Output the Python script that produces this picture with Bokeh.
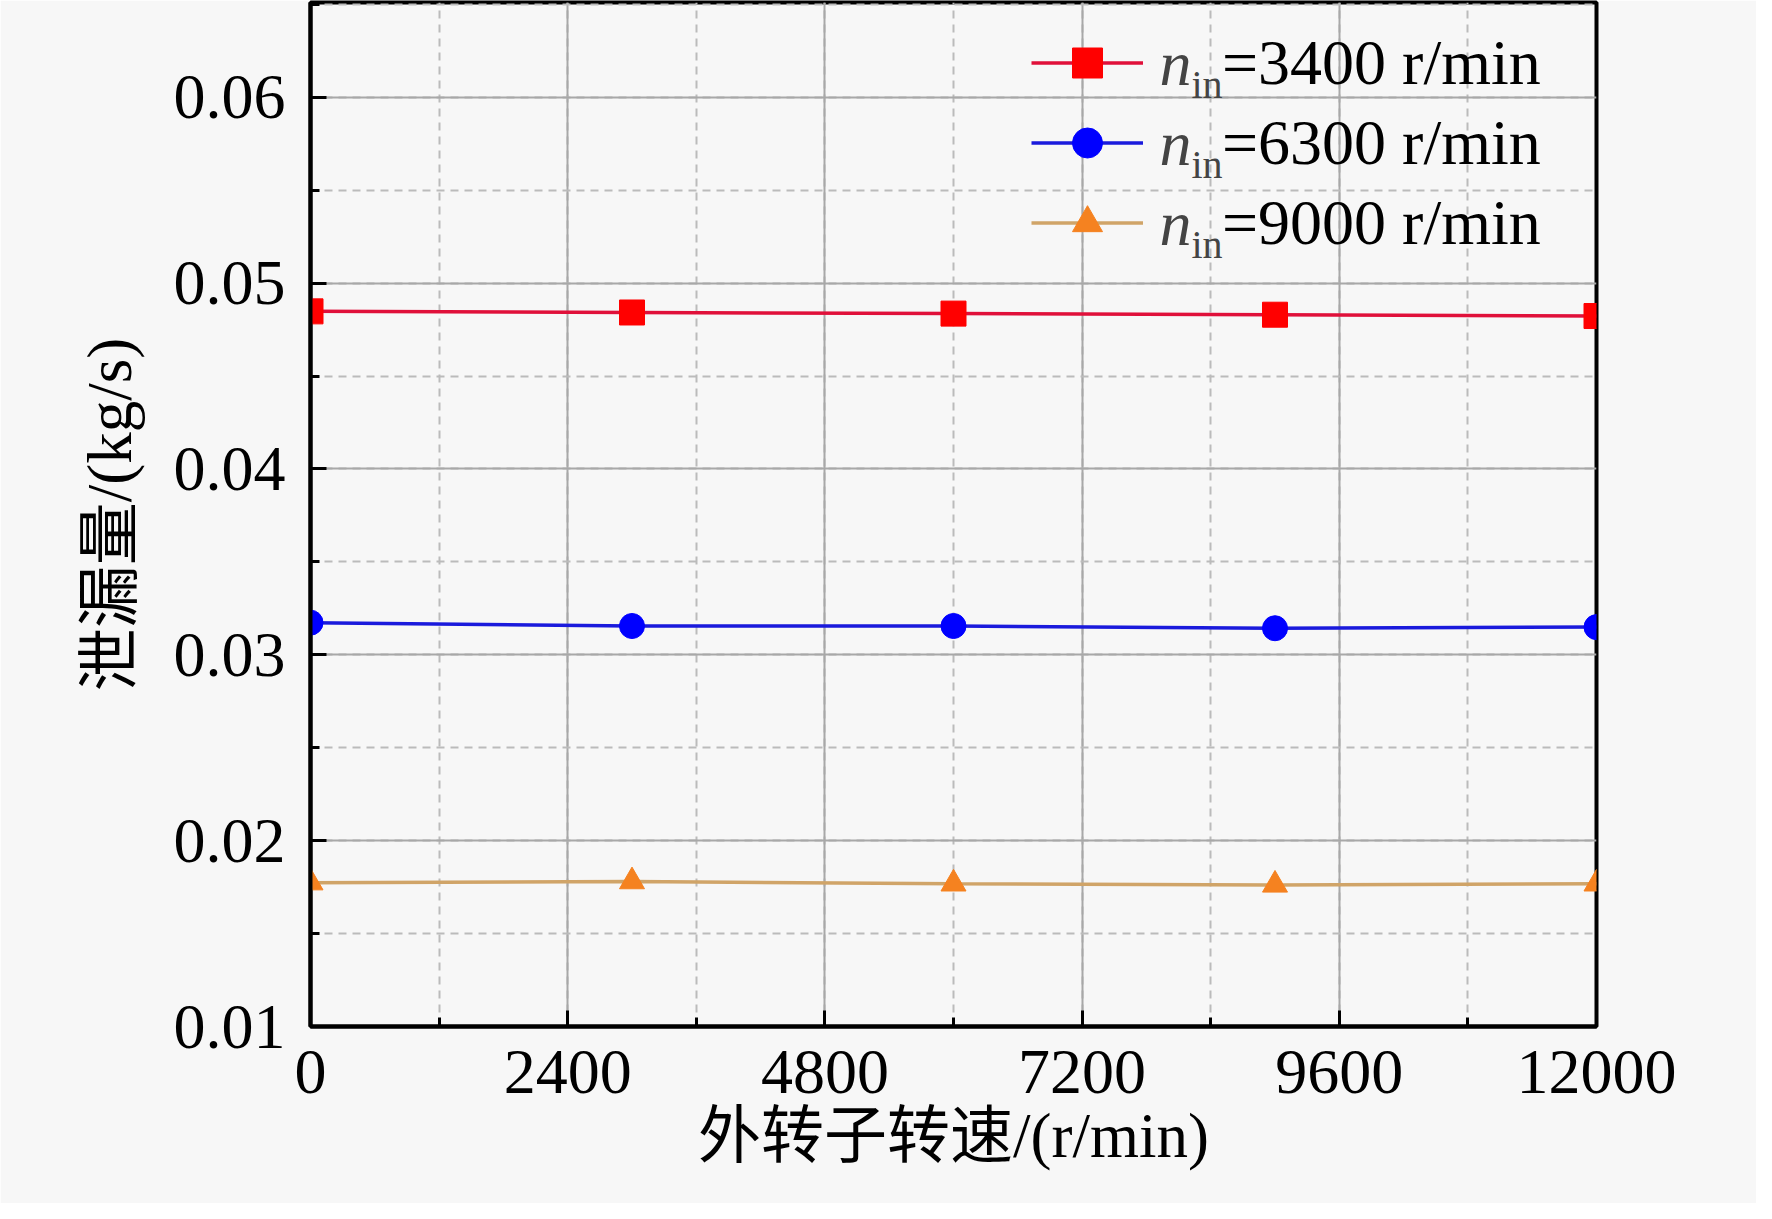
from bokeh.plotting import figure
from bokeh.models import Range1d, SingleIntervalTicker, Legend, LegendItem, Label
from bokeh.embed import file_html
from bokeh.resources import INLINE

# outer rotor speed (r/min) and leakage (kg/s) for each inner rotor speed
speed = [0, 3000, 6000, 9000, 12000]
leak_3400 = [0.04848, 0.04842, 0.04836, 0.04830, 0.04823]
leak_6300 = [0.03173, 0.03155, 0.03155, 0.03143, 0.03149]
leak_9000 = [0.01774, 0.01780, 0.01768, 0.01762, 0.01768]
inner_speeds = ["3400", "6300", "9000"]

SERIF = "Liberation Serif, Noto Sans CJK SC"
BG = "#f7f7f7"

p = figure(width=1756, height=1203, output_backend="svg", toolbar_location=None,
           x_range=Range1d(0, 12000), y_range=Range1d(0.01, 0.0651),
           min_border_left=310, min_border_right=160, min_border_top=2, min_border_bottom=177,
           background_fill_color=BG, border_fill_color=BG)

p.xaxis.ticker = SingleIntervalTicker(interval=2400, num_minor_ticks=2)
p.yaxis.ticker = SingleIntervalTicker(interval=0.01, num_minor_ticks=2)
p.xaxis.axis_label = "外转子转速/(r/min)"
p.yaxis.axis_label = "泄漏量/(kg/s)"

for ax in p.axis:
    ax.axis_line_width = 4
    ax.axis_line_color = "black"
    ax.major_tick_in = 16
    ax.major_tick_out = 0
    ax.minor_tick_in = 9
    ax.minor_tick_out = 0
    ax.major_tick_line_width = 3
    ax.minor_tick_line_width = 3
    ax.major_label_text_font = SERIF
    ax.major_label_text_font_size = "64px"
    ax.major_label_text_color = "black"
    ax.axis_label_text_font = SERIF
    ax.axis_label_text_font_size = "63px"
    ax.axis_label_text_font_style = "normal"
    ax.axis_label_text_color = "black"
p.xaxis.major_label_standoff = 24
p.xaxis.axis_label_standoff = 5
p.yaxis.major_label_standoff = 25
p.yaxis.axis_label_standoff = 26

for g in (p.xgrid, p.ygrid):
    g.grid_line_color = "#a8a8a8"
    g.grid_line_width = 2
    g.minor_grid_line_color = "#bbbbbb"
    g.minor_grid_line_width = 2
    g.minor_grid_line_dash = "8 6"

p.outline_line_color = "black"
p.outline_line_width = 4

l1 = p.line(speed, leak_3400, line_color="#e0103a", line_width=3.5)
s1 = p.scatter(speed, leak_3400, marker="square", size=25, fill_color="#ff0000", line_color="#ff0000")
l2 = p.line(speed, leak_6300, line_color="#1a1adc", line_width=3.5)
s2 = p.scatter(speed, leak_6300, marker="circle", size=25, fill_color="#0000ff", line_color="#0000ff")
l3 = p.line(speed, leak_9000, line_color="#d0a468", line_width=3.5)
s3 = p.scatter(speed, leak_9000, marker="triangle", size=25, fill_color="#f58220", line_color="#f58220")

items = [LegendItem(label="=%s r/min" % s, renderers=r)
         for s, r in zip(inner_speeds, [[l1, s1], [l2, s2], [l3, s3]])]
legend = Legend(items=items, location=(721, 766), glyph_width=112, glyph_height=75,
                label_height=75, spacing=5, padding=0, margin=0, label_standoff=79,
                label_text_font=SERIF, label_text_font_size="64px", label_text_color="black",
                background_fill_alpha=0, border_line_alpha=0)
p.add_layout(legend)

# italic n with subscript "in" in front of each legend entry
for i in range(len(inner_speeds)):
    p.add_layout(Label(x=849, y=963 - 80 * i, x_units="screen", y_units="screen", text="n",
                       text_font=SERIF, text_font_size="64px", text_font_style="italic",
                       text_baseline="alphabetic"))
    p.add_layout(Label(x=881, y=942 - 80 * i, x_units="screen", y_units="screen", text="in",
                       text_font=SERIF, text_font_size="40px", text_baseline="alphabetic"))

open("out.html", "w").write(file_html(p, INLINE))
